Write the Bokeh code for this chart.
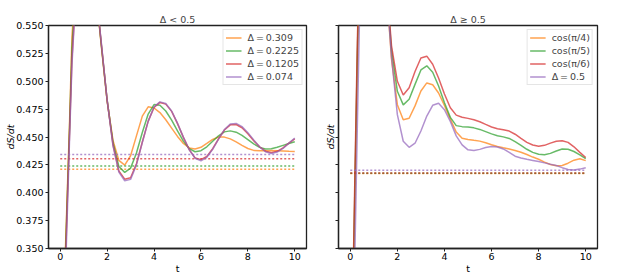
from bokeh.plotting import figure
from bokeh.layouts import row
from bokeh.models import FixedTicker, Label, Range1d
from bokeh.embed import file_html
from bokeh.resources import INLINE

# ---------------- data ----------------
t = [0.0, 0.1, 0.2, 0.3, 0.4, 0.5,
     0.75, 1.0, 1.25, 1.5, 1.75, 2.0, 2.25, 2.5, 2.75,
     3.0, 3.25, 3.5, 3.75, 4.0, 4.25, 4.5, 4.75, 5.0, 5.25, 5.5, 5.75,
     6.0, 6.25, 6.5, 6.75, 7.0, 7.25, 7.5, 7.75, 8.0, 8.25, 8.5, 8.75,
     9.0, 9.25, 9.5, 9.75, 10.0]

# panel (a): Delta < 0.5
a_labels = ["Δ\u2009=\u20090.309", "Δ\u2009=\u20090.2225", "Δ\u2009=\u20090.1205", "Δ\u2009=\u20090.074"]
a_d0309 = [0.20, 0.27, 0.335, 0.40, 0.465, 0.54,
           0.62, 0.645, 0.63, 0.585, 0.532, 0.482, 0.447, 0.429, 0.4248,
           0.4332, 0.4510, 0.4687, 0.4771, 0.4760, 0.4719, 0.4655, 0.4580, 0.4505, 0.4442, 0.4402, 0.4392,
           0.4408, 0.4442, 0.4478, 0.4500, 0.4499, 0.4483, 0.4456, 0.4425, 0.4397, 0.4380, 0.4376, 0.4377,
           0.4378, 0.4377, 0.4375, 0.4372, 0.4370]
a_d02225 = [0.19, 0.26, 0.33, 0.395, 0.46, 0.53,
            0.615, 0.64, 0.628, 0.585, 0.533, 0.483, 0.445, 0.4235, 0.4183,
            0.4221, 0.4357, 0.4541, 0.4706, 0.4791, 0.4784, 0.4733, 0.4651, 0.4554, 0.4463, 0.4396, 0.4368,
            0.4377, 0.4412, 0.4462, 0.4511, 0.4546, 0.4555, 0.4543, 0.4515, 0.4477, 0.4438, 0.4407, 0.4392,
            0.4395, 0.4408, 0.4425, 0.4442, 0.4457]
a_d01205 = [0.18, 0.25, 0.32, 0.39, 0.455, 0.52,
            0.61, 0.635, 0.625, 0.586, 0.534, 0.483, 0.443, 0.4195, 0.4122,
            0.4135, 0.4260, 0.4455, 0.4642, 0.4765, 0.4810, 0.4795, 0.4730, 0.4620, 0.4497, 0.4387, 0.4313,
            0.4297, 0.4325, 0.4395, 0.4483, 0.4563, 0.4609, 0.4612, 0.4583, 0.4530, 0.4467, 0.4412, 0.4373,
            0.4360, 0.4372, 0.4403, 0.4445, 0.4483]
a_d0074 = [0.17, 0.24, 0.31, 0.38, 0.45, 0.515,
           0.61, 0.635, 0.625, 0.586, 0.535, 0.483, 0.442, 0.4185, 0.4108,
           0.4120, 0.4250, 0.4450, 0.4640, 0.4770, 0.4815, 0.4800, 0.4733, 0.4624, 0.4499, 0.4386, 0.4309,
           0.4287, 0.4318, 0.4390, 0.4482, 0.4566, 0.4617, 0.4622, 0.4593, 0.4539, 0.4474, 0.4412, 0.4368,
           0.4352, 0.4365, 0.4398, 0.4445, 0.4490]
a_levels = [0.4211, 0.4241, 0.4304, 0.4343]

# panel (b): Delta >= 0.5
b_labels = ["cos(π/4)", "cos(π/5)", "cos(π/6)", "Δ\u2009=\u20090.5"]
b_cos4 = [0.17, 0.285, 0.40, 0.515, 0.61, 0.67,
          0.73, 0.73, 0.68, 0.595, 0.520, 0.479, 0.4655, 0.4668, 0.4779,
          0.4913, 0.4985, 0.4969, 0.4895, 0.4783, 0.4660, 0.4545, 0.4488, 0.4478, 0.4470, 0.4463, 0.4448,
          0.4430, 0.4415, 0.4403, 0.4392, 0.4379, 0.4363, 0.4343, 0.4320, 0.4300, 0.4275, 0.4253, 0.4242,
          0.4245, 0.4265, 0.4292, 0.4305, 0.4288]
b_cos5 = [0.18, 0.29, 0.41, 0.525, 0.615, 0.675,
          0.735, 0.735, 0.685, 0.598, 0.528, 0.491, 0.4788, 0.4838, 0.4972,
          0.5101, 0.5138, 0.5081, 0.4958, 0.4808, 0.4676, 0.4602, 0.4593, 0.4589, 0.4582, 0.4568, 0.4548,
          0.4528, 0.4512, 0.4501, 0.4487, 0.4458, 0.4425, 0.4390, 0.4362, 0.4345, 0.4341, 0.4353, 0.4375,
          0.4393, 0.4390, 0.4370, 0.4340, 0.4305]
b_cos6 = [0.19, 0.30, 0.42, 0.535, 0.62, 0.68,
          0.74, 0.74, 0.69, 0.60, 0.532, 0.500, 0.4877, 0.4941, 0.5087,
          0.5209, 0.5225, 0.5152, 0.5029, 0.4885, 0.4763, 0.4696, 0.4677, 0.4667, 0.4655, 0.4637, 0.4613,
          0.4590, 0.4574, 0.4565, 0.4553, 0.4525, 0.4487, 0.4452, 0.4428, 0.4418, 0.4425, 0.4445, 0.4462,
          0.4467, 0.4452, 0.4412, 0.4362, 0.4316]
b_d05 = [0.12, 0.235, 0.35, 0.46, 0.565, 0.64,
         0.72, 0.73, 0.68, 0.595, 0.522, 0.470, 0.4462, 0.4408, 0.4444,
         0.4554, 0.4688, 0.4784, 0.4802, 0.4745, 0.4640, 0.4510, 0.4430, 0.4385, 0.4378, 0.4389, 0.4406,
         0.4415, 0.4411, 0.4393, 0.4362, 0.4328, 0.4312, 0.4300, 0.4290, 0.4280, 0.4268, 0.4256, 0.4245,
         0.4225, 0.4209, 0.4205, 0.4212, 0.4225]
b_levels = [0.4173, 0.4175, 0.4177, 0.4202]

x_ticks = [0, 2, 4, 6, 8, 10]
y_ticks = [0.35, 0.375, 0.4, 0.425, 0.45, 0.475, 0.5, 0.525, 0.55]
y_tick_labels = ["0.350", "0.375", "0.400", "0.425", "0.450", "0.475", "0.500", "0.525", "0.550"]

colors = ["#ff7f0e", "#2ca02c", "#d62728", "#9467bd"]
FONT = "DejaVu Sans"
FS = "9.5px"
TICK_FS = "9.5px"


def panel(title, tag, labels, series, levels, show_ticklabels, width, bl, br, ylab_standoff):
    p = figure(width=width, height=276, x_range=Range1d(-0.5, 10.5),
               y_range=Range1d(0.35, 0.55), output_backend="svg",
               toolbar_location=None, min_border_left=bl, min_border_right=br,
               min_border_top=25, min_border_bottom=28)
    p.title.text = title
    p.title.align = "center"
    p.title.text_font = FONT
    p.title.text_font_size = FS
    p.title.text_font_style = "normal"
    p.title.standoff = 2
    p.title.offset = 0

    for c, lab, ys, lev in zip(colors, labels, series, levels):
        p.line(t, ys, line_color=c, line_width=1.5, line_alpha=0.72, legend_label=lab)
        p.line([t[0], t[-1]], [lev, lev], line_color=c, line_width=1.5,
               line_alpha=0.72, line_dash="2 2")

    p.xgrid.grid_line_color = None
    p.ygrid.grid_line_color = None
    p.outline_line_color = "#222222"
    p.outline_line_width = 1.3
    p.background_fill_color = "white"
    p.border_fill_color = "white"

    for ax in (p.xaxis, p.yaxis):
        ax.axis_line_color = "#222222"
        ax.axis_line_width = 1.3
        ax.major_tick_out = 3
        ax.major_tick_in = 0
        ax.minor_tick_line_color = None
        ax.major_tick_line_color = "#222222"
        ax.major_label_text_font = FONT
        ax.major_label_text_font_size = TICK_FS
        ax.major_label_text_color = "black"
        ax.axis_label_text_font = FONT
        ax.axis_label_text_font_size = FS
        ax.axis_label_text_color = "black"
        ax.major_label_standoff = 2
        ax.axis_label_standoff = 0

    p.xaxis.ticker = FixedTicker(ticks=x_ticks)
    p.xaxis.axis_label = "t"
    p.xaxis.axis_label_text_font_style = "normal"
    p.xaxis.major_label_standoff = 1
    p.yaxis.ticker = FixedTicker(ticks=y_ticks)
    if show_ticklabels:
        p.yaxis.major_label_overrides = dict(zip(y_ticks, y_tick_labels))
    else:
        p.yaxis.major_label_overrides = {k: "" for k in y_ticks}
    p.yaxis.axis_label = "dS/dt"
    p.yaxis.axis_label_text_font_style = "italic"
    p.yaxis.axis_label_standoff = ylab_standoff

    leg = p.legend[0]
    leg.location = "top_right"
    leg.margin = 4
    leg.padding = 2
    leg.spacing = 2
    leg.label_text_font = FONT
    leg.label_text_font_size = FS
    leg.label_height = 11
    leg.glyph_height = 11
    leg.glyph_width = 16
    leg.label_standoff = 6
    leg.border_line_color = "#cccccc"
    leg.border_line_width = 1
    leg.background_fill_alpha = 0.8

    p.add_layout(Label(x=10.5, y=0.55, text=tag, x_offset=1, y_offset=2,
                       text_baseline="bottom", text_align="left",
                       text_font=FONT, text_font_size=FS, text_color="black"))
    return p


pa = panel("Δ < 0.5", "(a)", a_labels, [a_d0309, a_d02225, a_d01205, a_d0074],
           a_levels, True, 320, 48, 14, -3)
pb = panel("Δ ≥ 0.5", "(b)", b_labels, [b_cos4, b_cos5, b_cos6, b_d05],
           b_levels, False, 316, 18, 39, 0)

layout = row(pa, pb)
open("out.html", "w").write(file_html(layout, INLINE))
